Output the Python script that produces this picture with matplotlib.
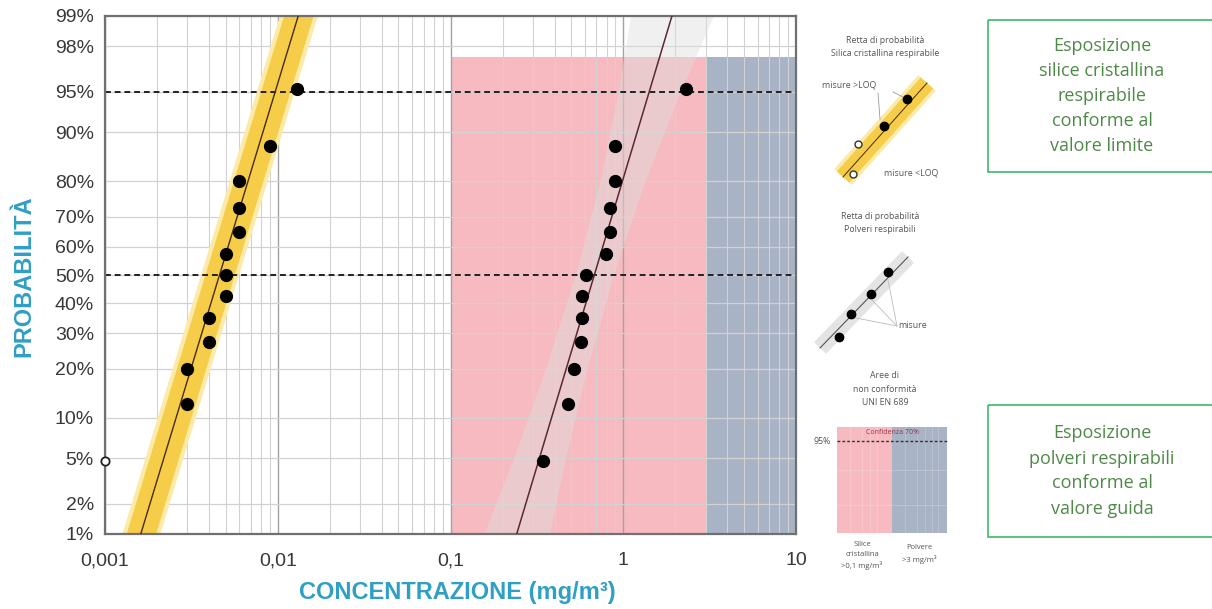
from statistics import NormalDist

import matplotlib
matplotlib.use("Agg")
import matplotlib.pyplot as plt
from matplotlib.patches import Rectangle
from matplotlib.ticker import NullFormatter, NullLocator
import numpy as np

# probabilità cumulate (posizioni di Blom, n = 13) e misure in mg/m3
prob = [4.7, 12.3, 19.8, 27.4, 34.9, 42.5, 50.0, 57.5, 65.1, 72.6, 80.2, 87.7, 95.3]
silice = [0.001, 0.003, 0.003, 0.004, 0.004, 0.005, 0.005, 0.005, 0.006, 0.006, 0.006, 0.009, 0.013]
silice_loq = [True] + [False] * 12          # prima misura sotto il LOQ
polveri = [0.345, 0.48, 0.52, 0.57, 0.58, 0.58, 0.61, 0.79, 0.84, 0.84, 0.90, 0.90, 2.3]

# rette di probabilità (media geometrica, deviazione standard geometrica)
silice_gm, silice_gsd = 0.0046, 1.57
polveri_gm, polveri_gsd = 0.68, 1.56

# fascia di confidenza (semi-ampiezza in decadi)
silice_fascia = 0.085
silice_alone = 0.11
polveri_fascia_p = [0.5, 1, 5, 20, 50, 80, 95, 99, 99.5]
polveri_fascia_hw = [0.20, 0.19, 0.15, 0.12, 0.11, 0.13, 0.18, 0.24, 0.25]

# aree di non conformità
lim_silice, lim_polveri, lim_max = 0.1, 3, 10
area_top = 97.5
linee_tratteggiate = [95, 50]

x_ticks = [0.001, 0.01, 0.1, 1, 10]
x_labels = ["0,001", "0,01", "0,1", "1", "10"]
y_ticks = [1, 2, 5, 10, 20, 30, 40, 50, 60, 70, 80, 90, 95, 98, 99]

W, H = 1212, 609
TEAL = "#2f9fc4"
VERDE = "#4e8a47"

_nd = NormalDist()


def probit(p):
    p = np.clip(np.asarray(p, dtype=float), 0.01, 99.99) / 100
    return np.vectorize(_nd.inv_cdf, otypes=[float])(p)


def probit_inv(z):
    return np.vectorize(_nd.cdf, otypes=[float])(np.asarray(z, dtype=float)) * 100


def retta(gm, gsd, p):
    return 10 ** (np.log10(gm) + probit(p) * np.log10(gsd))


def fbox(x0, y0, x1, y1):
    return [x0 / W, 1 - y1 / H, (x1 - x0) / W, (y1 - y0) / H]


fig = plt.figure(figsize=(W / 100, H / 100), dpi=100)
ax = fig.add_axes(fbox(105, 16, 796, 534))
ax.set_xscale("log")
ax.set_yscale("function", functions=(probit, probit_inv))
ax.set_xlim(x_ticks[0], x_ticks[-1])
ax.set_ylim(1, 99)

# aree rosa / blu
ax.fill_between([lim_silice, lim_polveri], 0.5, area_top, color="#f7bac0", lw=0, zorder=0)
ax.fill_between([lim_polveri, lim_max], 0.5, area_top, color="#a9b3c6", lw=0, zorder=0)

# griglia
ax.set_axisbelow(True)
ax.grid(which="major", axis="x", color="#a2a2a2", lw=1.0)
ax.grid(which="minor", axis="x", color="#d2d2d2", lw=0.8)
ax.grid(which="major", axis="y", color="#d2d2d2", lw=0.9)

p_ext = np.array([0.5, 99.5])

# polveri: fascia grigia + retta
pf = np.array(polveri_fascia_p)
hw = np.array(polveri_fascia_hw)
centro = retta(polveri_gm, polveri_gsd, pf)
ax.fill_betweenx(pf, centro / 10 ** hw, centro * 10 ** hw, color="#dedede",
                 alpha=0.45, lw=0, zorder=0.7)
ax.plot(retta(polveri_gm, polveri_gsd, p_ext), p_ext, color="#5a2830", lw=1.1, zorder=3)

# silice: fascia gialla + retta
cs = retta(silice_gm, silice_gsd, p_ext)
ax.fill_betweenx(p_ext, cs / 10 ** silice_alone, cs * 10 ** silice_alone,
                 color="#fbeaa8", lw=0, zorder=0.8)
ax.fill_betweenx(p_ext, cs / 10 ** silice_fascia, cs * 10 ** silice_fascia,
                 color="#f5cd48", lw=0, zorder=0.9)
ax.plot(cs, p_ext, color="#4a2a10", lw=1.0, zorder=3)

for v in linee_tratteggiate:
    ax.axhline(v, color="#222222", lw=1.4, ls=(0, (3, 2)), zorder=2)

# misure
s = np.array(silice)
pr = np.array(prob)
loq = np.array(silice_loq)
ax.plot(s[~loq], pr[~loq], "o", color="black", ms=8.5, zorder=4)
ax.plot(s[loq], pr[loq], "o", mfc="white", mec="#222222", mew=1.3, ms=6,
        zorder=5, clip_on=False)
ax.plot(polveri, prob, "o", color="black", ms=8.5, zorder=4)

ax.set_xticks(x_ticks, x_labels)
ax.xaxis.set_minor_formatter(NullFormatter())
ax.set_yticks(y_ticks, [f"{v}%" for v in y_ticks])
ax.yaxis.set_minor_locator(NullLocator())
ax.tick_params(which="both", length=0, labelsize=14, labelcolor="#383838")
ax.tick_params(axis="x", pad=13)
ax.tick_params(axis="y", pad=8)
for t in ax.get_xticklabels() + ax.get_yticklabels():
    t.set_family("Liberation Sans")
for sp in ax.spines.values():
    sp.set_color("#707070")
    sp.set_linewidth(1.6)

fig.text(24 / W, 1 - 276 / H, "PROBABILITÀ", rotation=90, ha="center", va="center",
         color=TEAL, fontsize=17, fontweight="bold", family="Liberation Sans")
fig.text(457 / W, 1 - 592 / H, "CONCENTRAZIONE (mg/m³)", ha="center", va="center",
         color=TEAL, fontsize=17, fontweight="bold", family="Liberation Sans")

# legenda schematica a destra, in coordinate pixel
lg = fig.add_axes([0, 0, 1, 1], zorder=5)
lg.set_xlim(0, W)
lg.set_ylim(H, 0)
lg.axis("off")
lg.patch.set_visible(False)
piccolo = dict(fontsize=6.3, color="#555555", ha="center", va="center", family="Open Sans")

lg.text(885, 47, "Retta di probabilità\nSilica cristallina respirabile", linespacing=1.5, **piccolo)
lg.plot([843, 927], [177, 83], color="#fbeaa8", lw=17, solid_capstyle="butt")
lg.plot([843, 927], [177, 83], color="#f5cd48", lw=12, solid_capstyle="butt")
lg.plot([843, 927], [177, 83], color="#4a2a10", lw=0.7)
lg.plot([907, 884], [99, 126], "o", color="black", ms=6)
lg.plot([858, 853], [144, 174], "o", mfc="white", mec="#333333", ms=5, mew=1)
lg.plot([878, 880], [93, 119], color="#999999", lw=0.6)
lg.plot([893, 903], [92, 97], color="#999999", lw=0.6)
lg.text(849, 85, "misure >LOQ", **piccolo)
lg.text(911, 173, "misure <LOQ", **piccolo)

lg.text(880, 223, "Retta di probabilità\nPolveri respirabili", linespacing=1.5, **piccolo)
lg.plot([820, 908], [348, 257], color="#e4e4e4", lw=12, solid_capstyle="butt")
lg.plot([820, 908], [348, 257], color="#555555", lw=0.8)
lg.plot([888, 871, 851, 839], [272, 294, 314, 337], "o", color="black", ms=6)
for xx, yy in [(888, 280), (872, 300), (856, 318)]:
    lg.plot([897, xx], [326, yy], color="#bbbbbb", lw=0.6)
lg.text(913, 326, "misure", **piccolo)

lg.text(885, 389, "Aree di\nnon conformità\nUNI EN 689", linespacing=1.6, **piccolo)
lg.add_patch(Rectangle((837, 427), 55, 106, color="#f7bac0", lw=0))
lg.add_patch(Rectangle((892, 427), 55, 106, color="#a9b3c6", lw=0))
for xx in [850, 862, 870, 877, 905, 917, 925, 932, 938]:
    lg.plot([xx, xx], [427, 533], color="white", lw=0.4, alpha=0.35)
for yy in [470, 505]:
    lg.plot([837, 947], [yy, yy], color="white", lw=0.4, alpha=0.35)
lg.plot([837, 947], [441, 441], color="#333333", lw=1, ls=(0, (2, 1.5)))
lg.text(822, 441, "95%", **piccolo)
lg.text(892, 432, "Confidenza 70%", fontsize=5, color="#9a3545", ha="center",
        va="center", family="Open Sans")
lg.text(862, 556, "Silice\ncristallina\n>0,1 mg/m³", fontsize=5.5, color="#555555",
        ha="center", va="center", linespacing=1.5, family="Open Sans")
lg.text(919, 554, "Polvere\n>3 mg/m³", fontsize=5.5, color="#555555",
        ha="center", va="center", linespacing=1.5, family="Open Sans")

# riquadri verdi
for (y0, y1, testo) in [
    (20, 172, "Esposizione\nsilice cristallina\nrespirabile\nconforme al\nvalore limite"),
    (405, 537, "Esposizione\npolveri respirabili\nconforme al\nvalore guida"),
]:
    lg.add_patch(Rectangle((988, y0), 240, y1 - y0, fill=False, ec="#3cb86a", lw=1.2,
                           clip_on=False))
    lg.text(1102, (y0 + y1) / 2, testo, fontsize=13, color=VERDE, ha="center", va="center",
            linespacing=1.5, family="Open Sans")

fig.savefig("out.png", dpi=100)
